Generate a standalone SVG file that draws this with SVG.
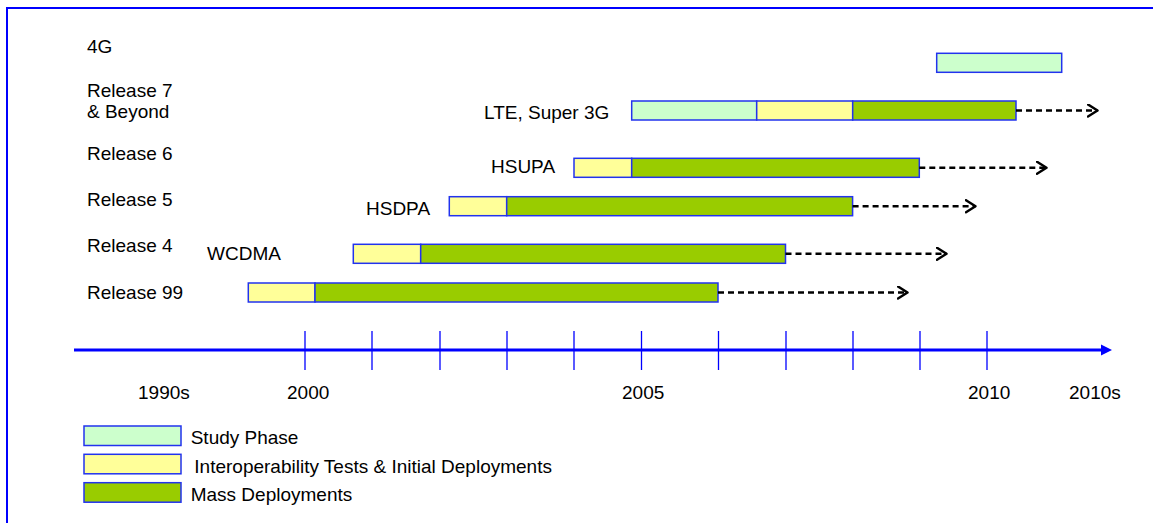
<svg xmlns="http://www.w3.org/2000/svg" width="1153" height="523" viewBox="0 0 1153 523">
<style>
text{font-family:"Liberation Sans",Arial,sans-serif;font-size:19px;fill:#000}
.st{fill:#ccffcc;stroke:#2233ee;stroke-width:1.5}
.it{fill:#ffff99;stroke:#2233ee;stroke-width:1.5}
.md{fill:#99cc00;stroke:#2233ee;stroke-width:1.5}
.dash{stroke:#000;stroke-width:2.5;stroke-dasharray:6 4;fill:none;marker-end:url(#ah)}
.tick{stroke:#0000ff;stroke-width:1.3}
</style>
<defs>
<marker id="ah" markerWidth="14" markerHeight="16" refX="11" refY="7" orient="auto" markerUnits="userSpaceOnUse">
<path d="M1.5,1 L11,7 L1.5,13" fill="none" stroke="#000" stroke-width="2.5" stroke-linecap="round" stroke-linejoin="round"/>
</marker>
</defs>
<rect x="0" y="0" width="1153" height="523" fill="#fff"/>
<rect id="frame" x="7" y="8" width="1160" height="540" fill="none" stroke="#0000ff" stroke-width="2"/>

<g id="labels">
<text x="87" y="53">4G</text>
<text x="87" y="97">Release 7</text>
<text x="87" y="118">&amp; Beyond</text>
<text x="87" y="160">Release 6</text>
<text x="87" y="206">Release 5</text>
<text x="87" y="252">Release 4</text>
<text x="87" y="299">Release 99</text>
</g>

<g id="bar-4g">
<rect class="st" x="936.7" y="53.3" width="125" height="19"/>
</g>
<g id="bar-lte">
<text x="484" y="119">LTE, Super 3G</text>
<rect class="st" x="631.7" y="101" width="125" height="19"/>
<rect class="it" x="756.7" y="101" width="96" height="19"/>
<rect class="md" x="852.7" y="101" width="163.3" height="19"/>
</g>
<g id="bar-hsupa">
<text x="491" y="173">HSUPA</text>
<rect class="it" x="574" y="158.3" width="57.7" height="19"/>
<rect class="md" x="631.7" y="158.3" width="287.6" height="19"/>
</g>
<g id="bar-hsdpa">
<text x="366" y="215">HSDPA</text>
<rect class="it" x="449.3" y="196.7" width="57.4" height="19"/>
<rect class="md" x="506.7" y="196.7" width="345.9" height="19"/>
</g>
<g id="bar-wcdma">
<text x="207" y="260">WCDMA</text>
<rect class="it" x="353.3" y="244.3" width="67.4" height="19"/>
<rect class="md" x="420.7" y="244.3" width="364.8" height="19"/>
</g>
<g id="bar-r99">
<rect class="it" x="248.3" y="283" width="66.7" height="19"/>
<rect class="md" x="315" y="283" width="403" height="19"/>
</g>

<g id="connectors">
<line class="dash" x1="1016" y1="110.5" x2="1097.5" y2="110.5"/>
<line class="dash" x1="919.3" y1="167.8" x2="1046.5" y2="167.8"/>
<line class="dash" x1="852.6" y1="206.2" x2="975.5" y2="206.2"/>
<line class="dash" x1="785.5" y1="253.8" x2="946.5" y2="253.8"/>
<line class="dash" x1="718" y1="292.5" x2="907.5" y2="292.5"/>
</g>

<g id="axis">
<line x1="74" y1="350" x2="1102" y2="350" stroke="#0000ff" stroke-width="3"/>
<path d="M1101,344.5 L1112,350 L1101,355.5 Z" fill="#0000ff"/>
<line class="tick" x1="305" y1="331" x2="305" y2="370"/>
<line class="tick" x1="372" y1="331" x2="372" y2="370"/>
<line class="tick" x1="440" y1="331" x2="440" y2="370"/>
<line class="tick" x1="507" y1="331" x2="507" y2="370"/>
<line class="tick" x1="574" y1="331" x2="574" y2="370"/>
<line class="tick" x1="641.5" y1="331" x2="641.5" y2="370"/>
<line class="tick" x1="718.5" y1="331" x2="718.5" y2="370"/>
<line class="tick" x1="786" y1="331" x2="786" y2="370"/>
<line class="tick" x1="853" y1="331" x2="853" y2="370"/>
<line class="tick" x1="920" y1="331" x2="920" y2="370"/>
<line class="tick" x1="987" y1="331" x2="987" y2="370"/>
<text x="138" y="399">1990s</text>
<text x="287" y="399">2000</text>
<text x="622" y="399">2005</text>
<text x="968" y="399">2010</text>
<text x="1069" y="399">2010s</text>
</g>

<g id="legend">
<rect class="st" x="84" y="426" width="97" height="19.5"/>
<text x="190.7" y="444">Study Phase</text>
<rect class="it" x="84" y="454.3" width="97" height="19.5"/>
<text x="194.3" y="472.5">Interoperability Tests &amp; Initial Deployments</text>
<rect class="md" x="84" y="482.7" width="97" height="19.5"/>
<text x="190.7" y="501">Mass Deployments</text>
</g>
</svg>
